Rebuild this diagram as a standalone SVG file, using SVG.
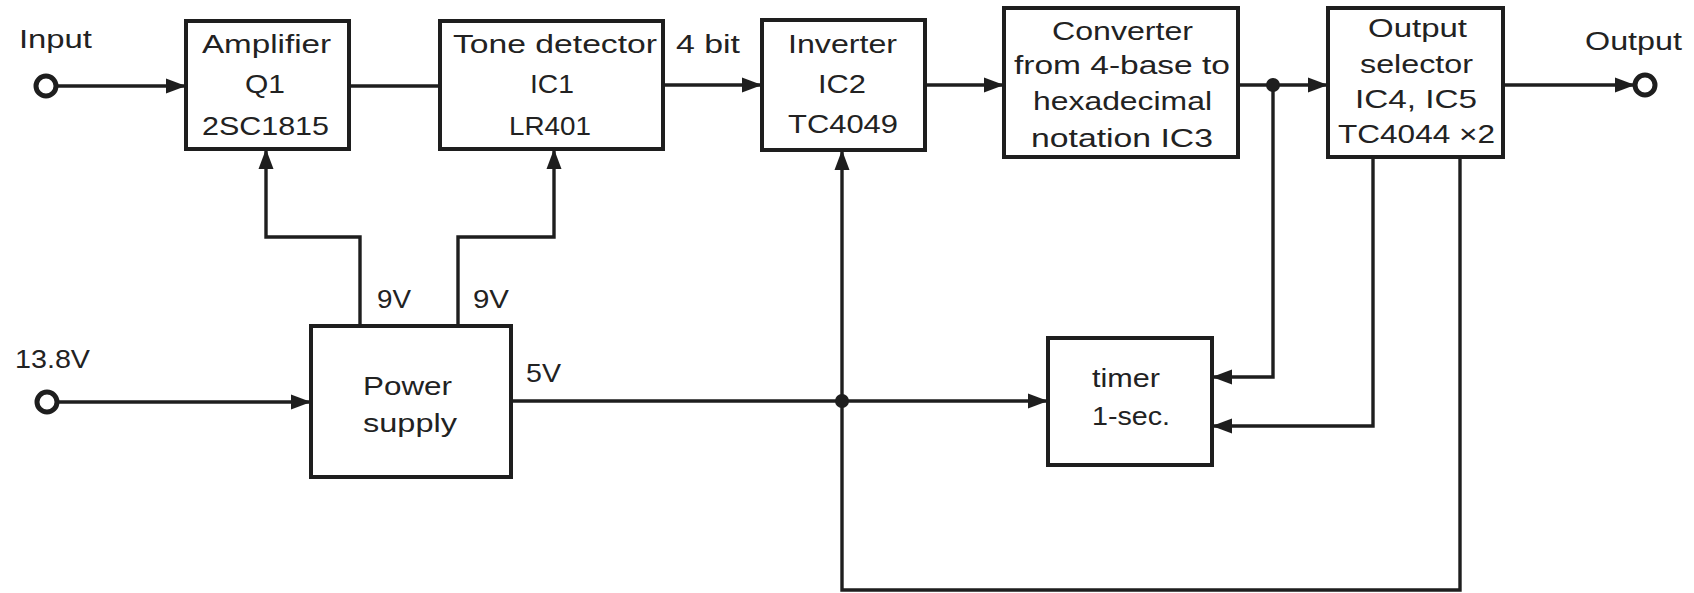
<svg xmlns="http://www.w3.org/2000/svg" width="1694" height="593" viewBox="0 0 1694 593">
<defs>
<style>
.box{fill:#fff;stroke:#1e1e1e;stroke-width:4}
.ln{fill:none;stroke:#1e1e1e;stroke-width:3.4}
.t{font-family:"Liberation Sans",Arial,sans-serif;font-size:26.5px;fill:#222}
.term{fill:#fff;stroke:#1e1e1e;stroke-width:5}
.dot{fill:#1e1e1e}
</style>
<marker id="arr" markerUnits="userSpaceOnUse" markerWidth="22" markerHeight="18" refX="20" refY="9" orient="auto">
<path d="M0,1.5 L20,9 L0,16.5 Z" fill="#1e1e1e"/>
</marker>
</defs>
<rect width="1694" height="593" fill="#fff"/>
<g id="connectors">
<line class="ln" x1="56" y1="86" x2="186" y2="86" marker-end="url(#arr)"/>
<line class="ln" x1="349" y1="86" x2="440" y2="86"/>
<line class="ln" x1="663" y1="85" x2="762" y2="85" marker-end="url(#arr)"/>
<line class="ln" x1="925" y1="85" x2="1004" y2="85" marker-end="url(#arr)"/>
<line class="ln" x1="1238" y1="85" x2="1328" y2="85" marker-end="url(#arr)"/>
<line class="ln" x1="1503" y1="85" x2="1635" y2="85" marker-end="url(#arr)"/>
<line class="ln" x1="57" y1="402" x2="311" y2="402" marker-end="url(#arr)"/>
<path class="ln" d="M360,326 V237 H266 V149" marker-end="url(#arr)"/>
<path class="ln" d="M458,326 V237 H554 V149" marker-end="url(#arr)"/>
<line class="ln" x1="511" y1="401" x2="1048" y2="401" marker-end="url(#arr)"/>
<path class="ln" d="M1460,157 V590 H842 V150" marker-end="url(#arr)"/>
<path class="ln" d="M1273,85 V377 H1212" marker-end="url(#arr)"/>
<path class="ln" d="M1373,157 V426 H1212" marker-end="url(#arr)"/>
<circle class="dot" cx="1273" cy="85" r="7"/>
<circle class="dot" cx="842" cy="401" r="7"/>
<circle class="term" cx="46" cy="86" r="10"/>
<circle class="term" cx="47" cy="402" r="10"/>
<circle class="term" cx="1645" cy="85" r="10"/>
</g>
<g id="labels">
<text class="t" x="19" y="48" textLength="73" lengthAdjust="spacingAndGlyphs">Input</text>
<text class="t" x="676" y="53" textLength="64" lengthAdjust="spacingAndGlyphs">4 bit</text>
<text class="t" x="1585" y="50" textLength="97" lengthAdjust="spacingAndGlyphs">Output</text>
<text class="t" x="377" y="308" textLength="34" lengthAdjust="spacingAndGlyphs">9V</text>
<text class="t" x="473" y="308" textLength="36" lengthAdjust="spacingAndGlyphs">9V</text>
<text class="t" x="15" y="368" textLength="75" lengthAdjust="spacingAndGlyphs">13.8V</text>
<text class="t" x="526" y="382" textLength="35" lengthAdjust="spacingAndGlyphs">5V</text>
</g>
<g id="amplifier">
<rect class="box" x="186" y="21" width="163" height="128"/>
<text class="t" x="202" y="53" textLength="129" lengthAdjust="spacingAndGlyphs">Amplifier</text>
<text class="t" x="245" y="93" textLength="40" lengthAdjust="spacingAndGlyphs">Q1</text>
<text class="t" x="202" y="135" textLength="127" lengthAdjust="spacingAndGlyphs">2SC1815</text>
</g>
<g id="tone-detector">
<rect class="box" x="440" y="21" width="223" height="128"/>
<text class="t" x="453" y="53" textLength="204" lengthAdjust="spacingAndGlyphs">Tone detector</text>
<text class="t" x="530" y="93" textLength="44" lengthAdjust="spacingAndGlyphs">IC1</text>
<text class="t" x="509" y="135" textLength="82" lengthAdjust="spacingAndGlyphs">LR401</text>
</g>
<g id="inverter">
<rect class="box" x="762" y="20" width="163" height="130"/>
<text class="t" x="788" y="53" textLength="109" lengthAdjust="spacingAndGlyphs">Inverter</text>
<text class="t" x="818" y="93" textLength="48" lengthAdjust="spacingAndGlyphs">IC2</text>
<text class="t" x="788" y="133" textLength="110" lengthAdjust="spacingAndGlyphs">TC4049</text>
</g>
<g id="converter">
<rect class="box" x="1004" y="8" width="234" height="149"/>
<text class="t" x="1052" y="40" textLength="141" lengthAdjust="spacingAndGlyphs">Converter</text>
<text class="t" x="1014" y="74" textLength="216" lengthAdjust="spacingAndGlyphs">from 4-base to</text>
<text class="t" x="1033" y="110" textLength="179" lengthAdjust="spacingAndGlyphs">hexadecimal</text>
<text class="t" x="1031" y="147" textLength="182" lengthAdjust="spacingAndGlyphs">notation IC3</text>
</g>
<g id="output-selector">
<rect class="box" x="1328" y="8" width="175" height="149"/>
<text class="t" x="1368" y="37" textLength="99" lengthAdjust="spacingAndGlyphs">Output</text>
<text class="t" x="1360" y="73" textLength="113" lengthAdjust="spacingAndGlyphs">selector</text>
<text class="t" x="1355" y="108" textLength="122" lengthAdjust="spacingAndGlyphs">IC4, IC5</text>
<text class="t" x="1338" y="143" textLength="157" lengthAdjust="spacingAndGlyphs">TC4044 ×2</text>
</g>
<g id="power-supply">
<rect class="box" x="311" y="326" width="200" height="151"/>
<text class="t" x="363" y="395" textLength="89" lengthAdjust="spacingAndGlyphs">Power</text>
<text class="t" x="363" y="432" textLength="94" lengthAdjust="spacingAndGlyphs">supply</text>
</g>
<g id="timer">
<rect class="box" x="1048" y="338" width="164" height="127"/>
<text class="t" x="1092" y="387" textLength="68" lengthAdjust="spacingAndGlyphs">timer</text>
<text class="t" x="1092" y="425" textLength="78" lengthAdjust="spacingAndGlyphs">1-sec.</text>
</g>
</svg>
